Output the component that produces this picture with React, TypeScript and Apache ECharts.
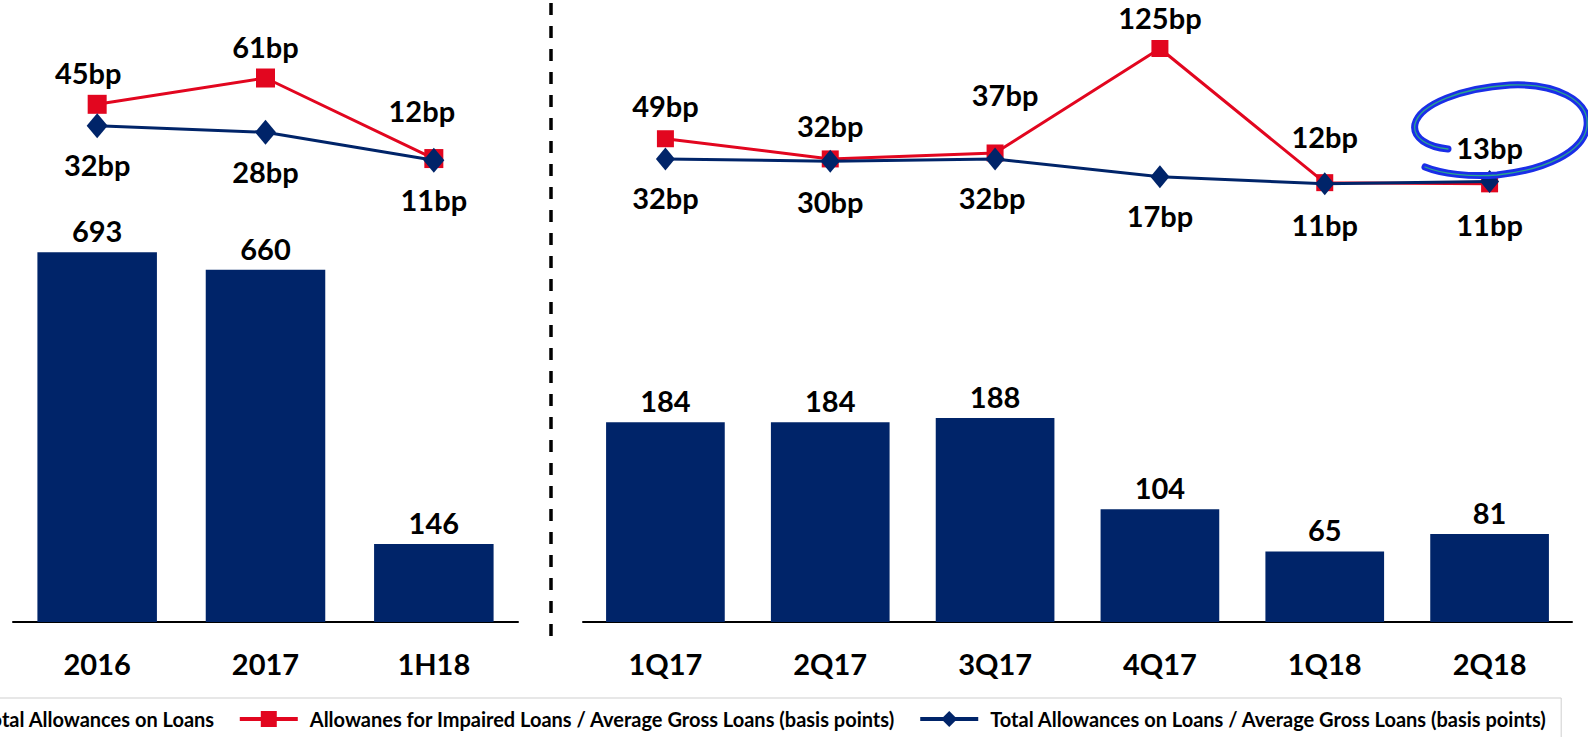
import React, { useEffect, useRef } from 'react';
import * as echarts from 'echarts';

// ---------- data ----------
const leftCategories = ['2016', '2017', '1H18'];
const leftTotalAllowances = [693, 660, 146];
const leftImpairedBp = [45, 61, 12];
const leftTotalBp = [32, 28, 11];

const rightCategories = ['1Q17', '2Q17', '3Q17', '4Q17', '1Q18', '2Q18'];
const rightTotalAllowances = [184, 184, 188, 104, 65, 81];
const rightImpairedBp = [49, 32, 37, 125, 12, 11];
const rightTotalBp = [32, 30, 32, 17, 11, 13];

const seriesNames = [
  'Total Allowances on Loans',
  'Allowanes for Impaired Loans / Average Gross Loans (basis points)',
  'Total Allowances on Loans / Average Gross Loans (basis points)',
];

// ---------- label placement (layout only) ----------
const leftImpairedLabelOffset = [[-9, -32], [0, -32], [-12, -48]];
const leftTotalLabelOffset = [[0, 39], [0, 39], [0, 39]];
const rightImpairedLabelOffset = [[0, -33], [0, -33], [10, -58], [0, -31], [0, -46], [0, 41]];
const rightTotalLabelOffset = [[0, 39], [0, 40], [-3, 39], [0, 39], [0, 41], [0, -34]];

// ---------- styles ----------
const NAVY = '#002469';
const RED = '#e2061f';
const FONT = "Lato, 'Open Sans', sans-serif";

const INK_PATH =
  'M1448,149 C1428,147 1412,138 1415,124 C1420,104 1462,88 1510,85 C1555,83 1590,100 1587,126 C1584,152 1545,170 1497,175 C1470,177 1442,174 1425,167';

let registered = false;
function ensureShape() {
  if (registered) return;
  echarts.graphic.registerShape('inkloop', echarts.graphic.extendPath(INK_PATH, {}) as any);
  registered = true;
}

const bigLabel = {
  fontFamily: FONT,
  fontWeight: 'bold' as const,
  fontSize: 29,
  color: '#000',
};

function withOffsets(values: number[], offsets: number[][]) {
  return values.map((v, i) => ({ value: v, label: { offset: offsets[i] } }));
}

export default function App() {
  const ref = useRef<HTMLDivElement>(null);
  useEffect(() => {
    if (!ref.current) return;
    ensureShape();
    const chart = echarts.init(ref.current, undefined, { renderer: 'svg' });

    const lineLabel = {
      show: true,
      position: 'inside' as const,
      formatter: '{c}bp',
      ...bigLabel,
    };

    chart.setOption({
      animation: false,
      backgroundColor: '#fff',
      grid: [
        { left: 13, width: 505, top: 30, height: 592 },
        { left: 583, width: 989, top: 30, height: 592 },
      ],
      xAxis: [0, 1].map((g) => ({
        type: 'category',
        gridIndex: g,
        data: g === 0 ? leftCategories : rightCategories,
        axisLine: { show: true, lineStyle: { color: '#000', width: 2 } },
        axisTick: { show: false },
        axisLabel: { ...bigLabel, margin: 27 },
      })),
      yAxis: [
        { type: 'value', gridIndex: 0, min: 0, max: 1109.4, show: false },
        { type: 'value', gridIndex: 0, min: -269.9, max: 90.2, show: false },
        { type: 'value', gridIndex: 1, min: 0, max: 545.6, show: false },
        { type: 'value', gridIndex: 1, min: -358.1, max: 140.6, show: false },
      ],
      legend: {
        data: seriesNames,
        left: -99,
        top: 698,
        width: 1800,
        itemWidth: 58,
        itemHeight: 20,
        itemGap: 23,
        padding: [11, 14, 40, 10],
        borderColor: '#cfcfcf',
        borderWidth: 1,
        lineStyle: { width: 4 },
        textStyle: {
          fontFamily: FONT,
          fontWeight: 'bold',
          fontSize: 20,
          color: '#000',
          padding: [0, 0, 0, 7],
        },
      },
      series: [
        {
          name: seriesNames[0],
          type: 'bar',
          xAxisIndex: 0,
          yAxisIndex: 0,
          data: leftTotalAllowances,
          barWidth: '71%',
          itemStyle: { color: NAVY },
          label: { show: true, position: 'top', distance: 7, ...bigLabel },
        },
        {
          name: seriesNames[0],
          type: 'bar',
          xAxisIndex: 1,
          yAxisIndex: 2,
          data: rightTotalAllowances,
          barWidth: '72%',
          itemStyle: { color: NAVY },
          label: { show: true, position: 'top', distance: 7, ...bigLabel },
        },
        {
          name: seriesNames[1],
          type: 'line',
          xAxisIndex: 0,
          yAxisIndex: 1,
          data: withOffsets(leftImpairedBp, leftImpairedLabelOffset),
          symbol: 'rect',
          symbolSize: 19,
          lineStyle: { color: RED, width: 3 },
          itemStyle: { color: RED },
          label: lineLabel,
          z: 3,
        },
        {
          name: seriesNames[1],
          type: 'line',
          xAxisIndex: 1,
          yAxisIndex: 3,
          data: withOffsets(rightImpairedBp, rightImpairedLabelOffset),
          symbol: 'rect',
          symbolSize: 17,
          lineStyle: { color: RED, width: 3 },
          itemStyle: { color: RED },
          label: lineLabel,
          z: 3,
        },
        {
          name: seriesNames[2],
          type: 'line',
          xAxisIndex: 0,
          yAxisIndex: 1,
          data: withOffsets(leftTotalBp, leftTotalLabelOffset),
          symbol: 'diamond',
          symbolSize: [21, 25],
          lineStyle: { color: NAVY, width: 3 },
          itemStyle: { color: NAVY },
          label: lineLabel,
          z: 4,
        },
        {
          name: seriesNames[2],
          type: 'line',
          xAxisIndex: 1,
          yAxisIndex: 3,
          data: withOffsets(rightTotalBp, rightTotalLabelOffset),
          symbol: 'diamond',
          symbolSize: [19, 23],
          lineStyle: { color: NAVY, width: 3 },
          itemStyle: { color: NAVY },
          label: lineLabel,
          z: 4,
        },
      ],
      graphic: [
        {
          type: 'line',
          shape: { x1: 551, y1: 3, x2: 551, y2: 645 },
          style: { stroke: '#000', lineWidth: 3.5, lineDash: [12, 11] },
          z: 10,
        },
        {
          type: 'inkloop',
          x: 0,
          y: 0,
          style: { stroke: '#1a2ee8', lineWidth: 7, fill: 'none', lineCap: 'round' },
          z: 20,
        },
        {
          type: 'inkloop',
          x: 0,
          y: 0,
          style: { stroke: '#2aa58c', lineWidth: 1.3, fill: 'none', lineCap: 'round' },
          z: 21,
        },
      ],
    });

    return () => chart.dispose();
  }, []);

  return (
    <div
      ref={ref}
      style={{ position: 'fixed', left: 0, top: 0, width: 1588, height: 737, background: '#fff' }}
    />
  );
}
